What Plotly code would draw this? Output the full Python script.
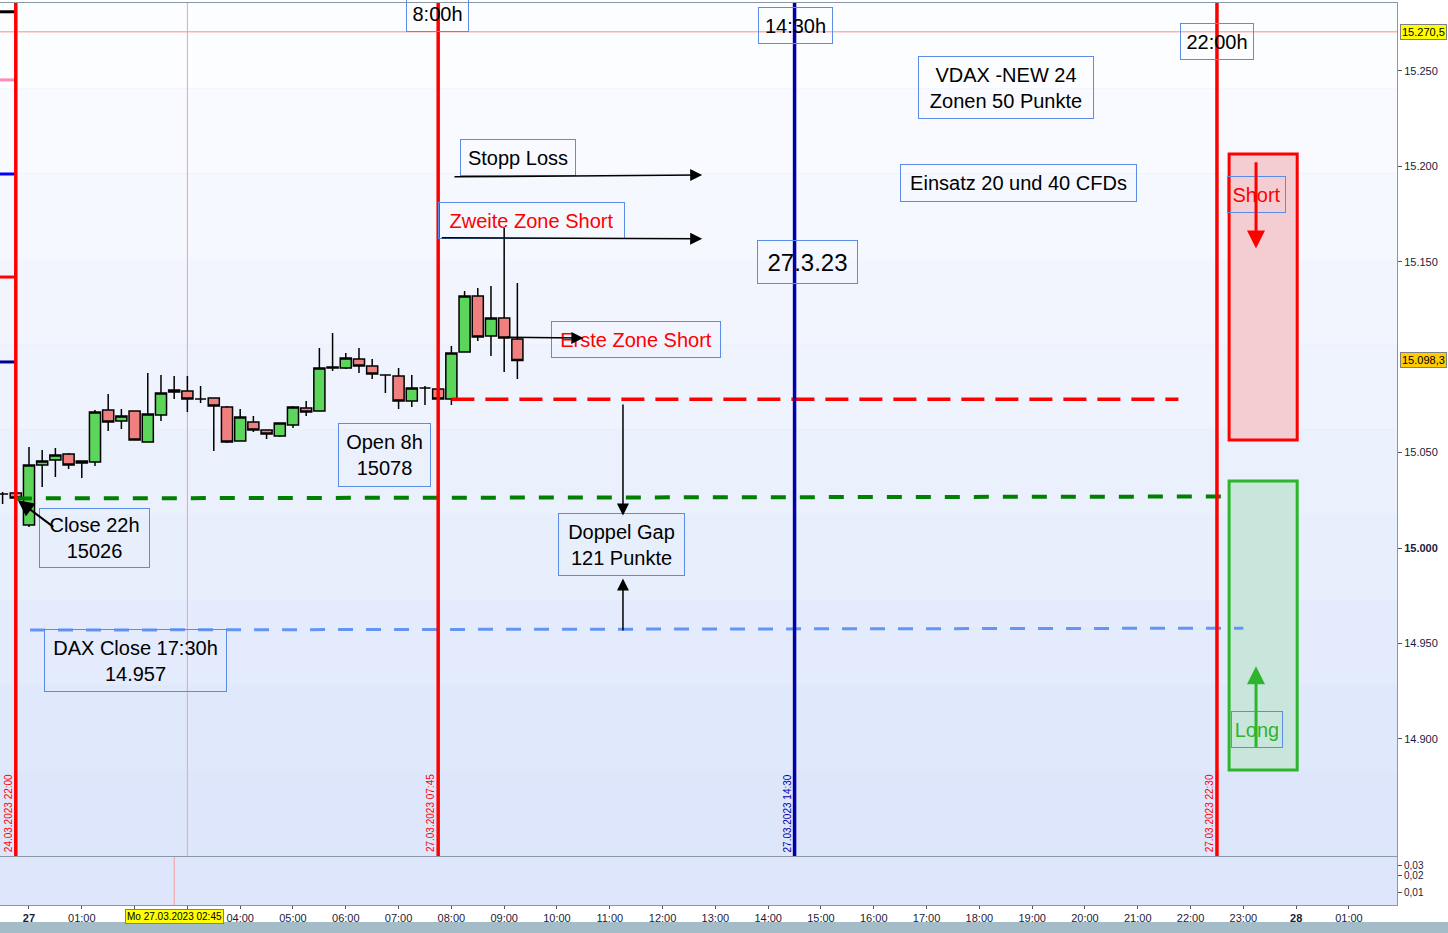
import plotly.graph_objects as go

# ---------------- data ----------------
# 15-minute bars, x = hours relative to Mon 27.03.2023 00:00 (weekend gap removed)
bar_hours = [-0.5, -0.25, 0.0, 0.25, 0.5, 0.75, 1.0, 1.25, 1.5, 1.75, 2.0, 2.25, 2.5, 2.75,
             3.0, 3.25, 3.5, 3.75, 4.0, 4.25, 4.5, 4.75, 5.0, 5.25, 5.5, 5.75, 6.0, 6.25,
             6.5, 6.75, 7.0, 7.25, 7.5, 7.75, 8.0, 8.25, 8.5, 8.75, 9.0, 9.25]
opens = [15028.3, 15028.8, 15012.0, 15043.5, 15046.1, 15049.3, 15044.5, 15045.1, 15072.3, 15066.6,
         15071.8, 15055.6, 15069.7, 15081.8, 15082.3, 15078.1, 15078.6, 15073.9, 15056.1, 15066.0,
         15061.8, 15058.7, 15064.5, 15073.4, 15071.8, 15094.3, 15094.3, 15099.1, 15095.4, 15090.7,
         15090.1, 15077.0, 15083.9, 15083.3, 15078.1, 15102.7, 15132.1, 15111.1, 15120.5, 15109.5]
highs = [15029.3, 15028.8, 15052.9, 15051.4, 15052.4, 15049.8, 15045.6, 15072.3, 15080.7, 15072.8,
         15071.8, 15091.7, 15090.7, 15090.1, 15090.1, 15084.9, 15078.6, 15074.4, 15072.8, 15069.2,
         15061.8, 15065.5, 15074.4, 15077.0, 15104.8, 15112.7, 15102.2, 15104.8, 15099.1, 15090.7,
         15094.3, 15090.7, 15084.9, 15084.9, 15105.9, 15134.7, 15136.3, 15137.3, 15167.7, 15138.9]
lows = [15023.1, 15026.2, 15011.0, 15032.0, 15037.2, 15041.4, 15036.7, 15043.0, 15061.3, 15062.4,
        15056.6, 15055.6, 15066.6, 15078.1, 15071.3, 15076.0, 15050.8, 15055.0, 15056.1, 15060.8,
        15057.1, 15058.2, 15062.9, 15069.2, 15071.8, 15092.8, 15093.8, 15091.7, 15088.6, 15081.2,
        15072.8, 15073.9, 15074.9, 15076.5, 15074.9, 15102.7, 15108.5, 15100.6, 15092.2, 15088.6]
closes = [15028.3, 15026.2, 15043.5, 15045.6, 15048.7, 15043.5, 15045.6, 15071.3, 15066.0, 15069.2,
          15056.6, 15070.2, 15081.2, 15082.8, 15078.1, 15078.1, 15074.4, 15055.6, 15068.7, 15061.8,
          15059.7, 15065.5, 15073.9, 15071.3, 15094.3, 15094.9, 15099.6, 15095.4, 15091.2, 15090.7,
          15077.0, 15083.9, 15083.9, 15078.1, 15102.2, 15132.1, 15110.6, 15120.5, 15110.1, 15098.3]

# horizontal level lines (x start, x end, price)
open_level_x = [8.0, 21.77]
open_level_y = [15078, 15078]
close22_level_x = [-0.23, 22.75]
close22_level_y = [15026.0, 15027.0]
dax_close_x = [0.02, 23.0]
dax_close_y = [14957.0, 14958.0]

# vertical event lines (hours)
event_hours = [-0.25, 7.75, 14.5, 22.5]
event_labels = ["24.03.2023 22:00", "27.03.2023 07:45", "27.03.2023 14:30", "27.03.2023 22:30"]
event_colors = ["#ff0000", "#ff0000", "#0000a8", "#ff0000"]

# zones
short_zone = [15056.6, 15206.5]
long_zone = [14883.7, 15035.1]
zone_x = [22.73, 24.02]

# left-edge indicator markers (price levels)
marker_levels = [15281.0, 15245.3, 15196.0, 15142.0, 15097.5]
marker_colors = ["#000000", "#ff88c0", "#0000ff", "#ff0000", "#000090"]

last_price = 15098.3
crosshair_price = 15270.5

# x tick labels (02:00 / 03:00 hidden under the crosshair time label)
x_tickvals = list(range(0, 26))
x_ticktext = (["<b>27</b>", "01:00", "", ""] + ["%02d:00" % h for h in range(4, 24)]
              + ["<b>28</b>", "01:00"])
y_tickvals = [14900, 14950, 15000, 15050, 15150, 15200, 15250]
y_ticktext = ["14.900", "14.950", "<b>15.000</b>", "15.050", "15.150", "15.200", "15.250"]

# ---------------- figure ----------------
FONT = "Liberation Sans, Arial, sans-serif"
fig = go.Figure()

fig.add_trace(go.Candlestick(
    x=bar_hours, open=opens, high=highs, low=lows, close=closes,
    increasing=dict(fillcolor="#5bd65b", line=dict(color="#000000", width=1.5)),
    decreasing=dict(fillcolor="#f08080", line=dict(color="#000000", width=1.5)),
    whiskerwidth=0, hoverinfo="skip", showlegend=False, xaxis="x", yaxis="y"))

fig.add_trace(go.Scatter(x=open_level_x, y=open_level_y, mode="lines",
                         line=dict(color="#ff0000", width=3.5, dash="23px,11px"),
                         hoverinfo="skip", showlegend=False))
fig.add_trace(go.Scatter(x=close22_level_x, y=close22_level_y, mode="lines",
                         line=dict(color="#008000", width=4, dash="15px,14px"),
                         hoverinfo="skip", showlegend=False))
fig.add_trace(go.Scatter(x=dax_close_x, y=dax_close_y, mode="lines",
                         line=dict(color="#6495f5", width=3, dash="15px,13px"),
                         hoverinfo="skip", showlegend=False))
# lower pane placeholder
fig.add_trace(go.Scatter(x=[0], y=[0.02], mode="none", xaxis="x2", yaxis="y2",
                         hoverinfo="skip", showlegend=False))

shapes = []
# background gradient bands in main pane
nb = 10
c0, c1 = (252, 253, 255), (221, 230, 251)
for i in range(nb):
    f = i / (nb - 1)
    col = "rgb(%d,%d,%d)" % tuple(round(c0[k] + (c1[k] - c0[k]) * f) for k in range(3))
    shapes.append(dict(type="rect", xref="x domain", yref="y domain",
                       x0=0, x1=1, y0=1 - (i + 1) / nb, y1=1 - i / nb,
                       fillcolor=col, line=dict(width=0), layer="below"))

# zones
shapes.append(dict(type="rect", xref="x", yref="y", x0=zone_x[0], x1=zone_x[1],
                   y0=short_zone[0], y1=short_zone[1], fillcolor="#f4cdd3",
                   line=dict(color="#ff0000", width=3), layer="below"))
shapes.append(dict(type="rect", xref="x", yref="y", x0=zone_x[0], x1=zone_x[1],
                   y0=long_zone[0], y1=long_zone[1], fillcolor="#c8e6dc",
                   line=dict(color="#2db52d", width=3), layer="below"))

# crosshair lines
shapes.append(dict(type="line", xref="x domain", yref="y", x0=0, x1=1,
                   y0=crosshair_price, y1=crosshair_price,
                   line=dict(color="#ff8a8a", width=1), layer="below"))
shapes.append(dict(type="line", xref="x", yref="y domain", x0=3.0, x1=3.0, y0=0, y1=1,
                   line=dict(color="#ff9a9a", width=1), layer="below"))
shapes.append(dict(type="line", xref="x2", yref="y2 domain", x0=2.75, x1=2.75, y0=0, y1=1,
                   line=dict(color="#ff9a9a", width=1), layer="below"))

# left-edge markers
for lv, col in zip(marker_levels, marker_colors):
    shapes.append(dict(type="line", xref="x", yref="y", x0=-0.55, x1=-0.27, y0=lv, y1=lv,
                       line=dict(color=col, width=3), layer="above"))

# event lines (drawn above everything)
for h, col in zip(event_hours, event_colors):
    shapes.append(dict(type="line", xref="x", yref="y domain", x0=h, x1=h, y0=0, y1=1,
                       line=dict(color=col, width=3.5), layer="above"))

# bottom scrollbar strip
shapes.append(dict(type="rect", xref="paper", yref="paper", x0=-0.01, x1=1.05,
                   y0=-0.032, y1=-0.0188, fillcolor="#a3bcc8", line=dict(width=0)))

ann = []
BORDER = "#5b8de8"


def box(text, x, y, w, h, color="#000000", size=20):
    ann.append(dict(text=text, x=x, y=y, xref="x", yref="y", showarrow=False,
                    font=dict(family=FONT, size=size, color=color),
                    bordercolor=BORDER, borderwidth=1, borderpad=4,
                    bgcolor="rgba(255,255,255,0)", width=w, height=h,
                    xanchor="center", yanchor="middle", align="center"))


box("8:00h", 7.73, 15280.2, 53, 27)
box("14:30h", 14.51, 15273.6, 65, 27)
box("22:00h", 22.5, 15265.2, 64, 27)
box("VDAX -NEW 24<br>Zonen 50 Punkte", 18.51, 15241.1, 166, 53)
box("Einsatz 20 und 40 CFDs", 18.75, 15191.3, 227, 28)
box("Stopp Loss", 9.26, 15204.4, 106, 27)
box("Zweite Zone Short", 9.51, 15171.4, 177, 27, color="#ff0000")
box("27.3.23", 14.74, 15149.9, 91, 34, size=24)
box("Erste Zone Short", 11.5, 15109.5, 160, 27, color="#ff0000")
box("Open 8h<br>15078", 6.74, 15048.7, 83, 54)
box("Close 22h<br>15026", 1.25, 15005.5, 101, 50)
box("Doppel Gap<br>121 Punkte", 11.23, 15001.6, 117, 53)
box("DAX Close 17:30h<br>14.957", 2.01, 14940.8, 173, 53)
box("Short", 23.24, 15185.5, 49, 27, color="#ff0000")
box("Long", 23.26, 14905.1, 42, 27, color="#2db52d")


def arrow(x0, y0, x1, y1, color="#000000", width=1.5, size=1.6):
    ann.append(dict(text="", x=x1, y=y1, ax=x0, ay=y0, xref="x", yref="y",
                    axref="x", ayref="y", showarrow=True, arrowhead=2,
                    arrowsize=size, arrowwidth=width, arrowcolor=color, standoff=0))


arrow(8.03, 15194.5, 12.75, 15195.5)
arrow(7.79, 15162.6, 12.75, 15162.0)
arrow(9.02, 15110.5, 10.5, 15110.0)
arrow(11.25, 15076.0, 11.25, 15017.0)
arrow(11.25, 14956.0, 11.25, 14984.0)
arrow(0.49, 15010.5, -0.21, 15025.0, width=2)
arrow(23.24, 15203.0, 23.24, 15157.0, color="#ff0000", width=3, size=1.2)
arrow(23.24, 14895.0, 23.24, 14938.0, color="#2db52d", width=3, size=1.2)

# rotated event labels
label_x = [-0.40, 7.61, 14.36, 22.35]
for lx, txt, col in zip(label_x, event_labels, event_colors):
    ann.append(dict(text=txt, x=lx, y=0.002, xref="x", yref="y domain", showarrow=False,
                    textangle=-90, font=dict(family=FONT, size=10, color=col),
                    xanchor="center", yanchor="bottom"))

# price labels on right axis
ann.append(dict(text="15.270,5", x=1.0025, y=crosshair_price, xref="paper", yref="y",
                showarrow=False, xanchor="left", yanchor="middle",
                font=dict(family=FONT, size=11, color="#000000"),
                bgcolor="#ffff00", bordercolor="#808080", borderwidth=1, borderpad=1))
ann.append(dict(text="15.098,3", x=1.0025, y=last_price, xref="paper", yref="y",
                showarrow=False, xanchor="left", yanchor="middle",
                font=dict(family=FONT, size=11, color="#000000"),
                bgcolor="#ffcc00", bordercolor="#808080", borderwidth=1, borderpad=1))
# crosshair time label
ann.append(dict(text="Mo 27.03.2023 02:45", x=2.75, y=-0.0125, xref="x2", yref="paper",
                showarrow=False, xanchor="center", yanchor="middle",
                font=dict(family=FONT, size=10, color="#000000"),
                bgcolor="#ffff00", bordercolor="#808080", borderwidth=1, borderpad=1))

AXLINE = "#8a97a6"
fig.update_layout(
    width=1448, height=933,
    margin=dict(l=0, r=51, t=3, b=28),
    paper_bgcolor="#ffffff", plot_bgcolor="#dde6fb",
    showlegend=False, boxgap=0.16, boxgroupgap=0.0,
    font=dict(family=FONT, size=11, color="#1a1a3a"),
    shapes=shapes, annotations=ann,
    xaxis=dict(domain=[0, 1], anchor="y", range=[-0.549, 25.91], showticklabels=False,
               ticks="", showgrid=False, zeroline=False, rangeslider=dict(visible=False),
               showline=True, mirror=True, linecolor=AXLINE, linewidth=1),
    yaxis=dict(domain=[0.0543, 1], anchor="x", side="right", range=[14838.6, 15285.6],
               tickvals=y_tickvals, ticktext=y_ticktext, ticks="outside", ticklen=4,
               tickcolor="#555555", showgrid=False, zeroline=False,
               showline=True, mirror=True, linecolor=AXLINE, linewidth=1,
               tickfont=dict(family=FONT, size=11, color="#1a1a3a")),
    xaxis2=dict(domain=[0, 1], anchor="y2", range=[-0.549, 25.91],
                tickvals=x_tickvals, ticktext=x_ticktext, ticks="outside", ticklen=3,
                tickcolor="#555555", showgrid=False, zeroline=False,
                showline=True, mirror=True, linecolor=AXLINE, linewidth=1,
                tickfont=dict(family=FONT, size=11, color="#1a1a3a")),
    yaxis2=dict(domain=[0, 0.0532], anchor="x2", side="right", type="log",
                range=[-2.23, -1.38], tickvals=[0.01, 0.02, 0.03],
                ticktext=["0,01", "0,02", "0,03"], ticks="outside", ticklen=4,
                tickcolor="#555555", showgrid=False, zeroline=False,
                showline=True, mirror=True, linecolor=AXLINE, linewidth=1,
                tickfont=dict(family=FONT, size=10, color="#1a1a3a")),
)

fig.write_html("out.html", config={"displayModeBar": False},
               post_script="document.body.style.margin='0';")
